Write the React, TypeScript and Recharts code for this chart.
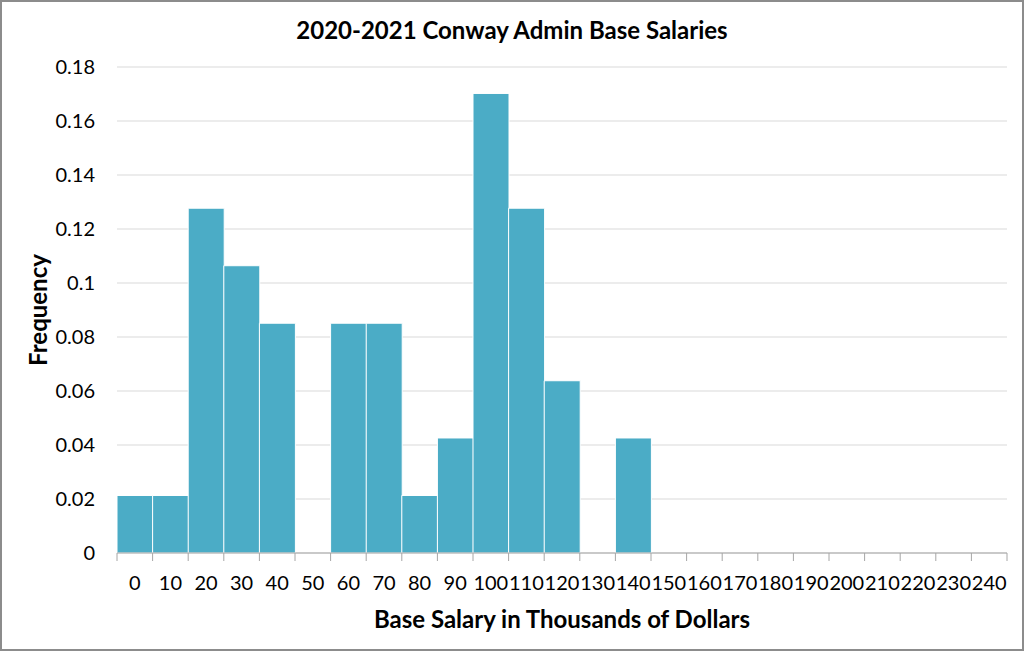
import * as React from "react";
import { Bar, BarChart, CartesianGrid, XAxis, YAxis } from "recharts";

const bins = [
  "0", "10", "20", "30", "40", "50", "60", "70", "80", "90", "100", "110", "120",
  "130", "140", "150", "160", "170", "180", "190", "200", "210", "220", "230", "240",
];
const frequency = [
  0.0213, 0.0213, 0.1277, 0.1064, 0.0851, 0, 0.0851, 0.0851, 0.0213, 0.0426, 0.1702,
  0.1277, 0.0638, 0, 0.0426, 0, 0, 0, 0, 0, 0, 0, 0, 0, 0,
];
const yTicks = [0, 0.02, 0.04, 0.06, 0.08, 0.1, 0.12, 0.14, 0.16, 0.18];

const data = bins.map((bin, i) => ({ bin, frequency: frequency[i] }));

const FONT = "Lato, 'Open Sans', sans-serif";
const AXIS = "#a6a6a6";

function BinTick(props: any) {
  const { x, y, payload, index } = props;
  const half = payload?.offset || 890 / bins.length / 2;
  const last = index === bins.length - 1;
  return (
    <g>
      <line x1={x - half} x2={x - half} y1={y} y2={y + 8} stroke={AXIS} />
      {last && <line x1={x + half} x2={x + half} y1={y} y2={y + 8} stroke={AXIS} />}
      <text x={x} y={y + 37} textAnchor="middle" fill="#000" fontSize={20} fontFamily={FONT}>
        {payload.value}
      </text>
    </g>
  );
}

const titleStyle: React.CSSProperties = {
  position: "absolute",
  fontFamily: FONT,
  fontWeight: 700,
  fontSize: 24,
  lineHeight: "29px",
  color: "#000",
  whiteSpace: "nowrap",
};

export default function App() {
  return (
    <div style={{ position: "fixed", left: 0, top: 0, width: 1024, height: 651, background: "#fff" }}>
      <BarChart
        width={1024}
        height={651}
        data={data}
        margin={{ top: 67, right: 17, bottom: 0, left: 0 }}
        barCategoryGap={0}
      >
        <CartesianGrid vertical={false} stroke="#d9d9d9" />
        <XAxis
          dataKey="bin"
          height={98}
          axisLine={{ stroke: AXIS }}
          tickLine={false}
          tickSize={0}
          tickMargin={0}
          interval={0}
          tick={<BinTick />}
        />
        <YAxis
          width={117}
          domain={[0, 0.18]}
          ticks={yTicks}
          axisLine={false}
          tickLine={false}
          tickSize={0}
          tickMargin={22}
          tick={{ fill: "#000", fontSize: 20, fontFamily: FONT }}
        />
        <Bar dataKey="frequency" fill="#4bacc6" stroke="#fff" strokeWidth={1} isAnimationActive={false} />
      </BarChart>
      <div style={{ ...titleStyle, top: 15, left: 0, width: 1024, textAlign: "center" }}>
        2020-2021 Conway Admin Base Salaries
      </div>
      <div style={{ ...titleStyle, top: 604, left: 117, width: 890, textAlign: "center" }}>
        Base Salary in Thousands of Dollars
      </div>
      <div
        style={{
          ...titleStyle,
          left: 37,
          top: 310,
          transform: "translate(-50%, -50%) rotate(-90deg)",
        }}
      >
        Frequency
      </div>
      <div
        style={{
          position: "absolute",
          inset: 0,
          border: "2px solid #8c8c8c",
          pointerEvents: "none",
        }}
      />
    </div>
  );
}
